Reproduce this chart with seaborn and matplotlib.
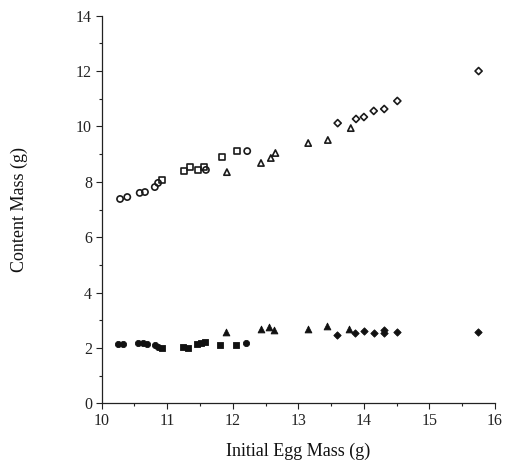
import pandas as pd
import matplotlib
matplotlib.use("Agg")
import matplotlib.pyplot as plt
from matplotlib.ticker import MultipleLocator
import seaborn as sns

sns.set_style("ticks")
plt.rcParams['font.family'] = ['Liberation Serif', 'DejaVu Serif']

# upper series (open markers)
x_circle_up = [10.28, 10.39, 10.58, 10.66, 10.81, 10.86, 11.59, 12.22]
y_circle_up = [7.38, 7.45, 7.60, 7.63, 7.81, 7.96, 8.43, 9.11]
x_square_up = [10.92, 11.26, 11.35, 11.47, 11.56, 11.84, 12.06]
y_square_up = [8.07, 8.39, 8.54, 8.43, 8.54, 8.90, 9.11]
x_tri_up = [11.91, 12.43, 12.58, 12.65, 13.15, 13.45, 13.80]
y_tri_up = [8.35, 8.68, 8.86, 9.04, 9.40, 9.51, 9.94]
x_dia_up = [13.60, 13.88, 14.00, 14.15, 14.31, 14.51, 15.75]
y_dia_up = [10.12, 10.27, 10.34, 10.56, 10.63, 10.92, 12.00]

# lower series (filled markers)
x_circle_lo = [10.25, 10.33, 10.55, 10.63, 10.69, 10.81, 10.86, 12.20]
y_circle_lo = [2.14, 2.14, 2.18, 2.18, 2.14, 2.11, 2.03, 2.18]
x_square_lo = [10.92, 11.24, 11.32, 11.45, 11.51, 11.58, 11.81, 12.05]
y_square_lo = [2.00, 2.03, 2.00, 2.14, 2.18, 2.21, 2.11, 2.11]
x_tri_lo = [11.90, 12.43, 12.55, 12.63, 13.15, 13.44, 13.77]
y_tri_lo = [2.58, 2.68, 2.76, 2.65, 2.68, 2.79, 2.68]
x_dia_lo = [13.59, 13.86, 14.00, 14.15, 14.31, 14.31, 14.50, 15.74]
y_dia_lo = [2.47, 2.54, 2.61, 2.54, 2.65, 2.54, 2.58, 2.58]

upper = [(x_circle_up, y_circle_up, 'o', 20),
         (x_square_up, y_square_up, 's', 19),
         (x_tri_up, y_tri_up, '^', 20),
         (x_dia_up, y_dia_up, 'D', 13)]
lower = [(x_circle_lo, y_circle_lo, 'o', 20),
         (x_square_lo, y_square_lo, 's', 17),
         (x_tri_lo, y_tri_lo, '^', 24),
         (x_dia_lo, y_dia_lo, 'D', 14)]

fig = plt.figure(figsize=(5.07, 4.68), dpi=100)
ax = fig.add_axes([0.2006, 0.1382, 0.7757, 0.8283])

for xs, ys, m, s in upper:
    df = pd.DataFrame({'x': xs, 'y': ys})
    sns.scatterplot(data=df, x='x', y='y', marker=m, s=s, ax=ax,
                    color='black', linewidth=1.2, zorder=3)
    coll = ax.collections[-1]
    coll.set_facecolor('none')
    coll.set_edgecolor('#1a1a1a')

for xs, ys, m, s in lower:
    df = pd.DataFrame({'x': xs, 'y': ys})
    sns.scatterplot(data=df, x='x', y='y', marker=m, s=s, ax=ax,
                    color='#111111', edgecolor='#111111', linewidth=0.6, zorder=3)

ax.set_xlim(10, 16)
ax.set_ylim(0, 14)
ax.xaxis.set_major_locator(MultipleLocator(1))
ax.xaxis.set_minor_locator(MultipleLocator(0.5))
ax.yaxis.set_major_locator(MultipleLocator(2))
ax.yaxis.set_minor_locator(MultipleLocator(1))
ax.tick_params(which='major', direction='out', length=4, width=0.8,
               labelsize=11.5, colors='#222222', pad=3)
ax.tick_params(which='minor', direction='out', length=2.5, width=0.8, colors='#222222')

sns.despine(ax=ax)
for sp in ['left', 'bottom']:
    ax.spines[sp].set_color('#222222')
    ax.spines[sp].set_linewidth(0.9)

ax.set_xlabel('Initial Egg Mass (g)', fontsize=13, color='#111111')
ax.set_ylabel('Content Mass (g)', fontsize=13, color='#111111')
ax.xaxis.set_label_coords(0.5, -0.102)
ax.yaxis.set_label_coords(-0.187, 0.5)

fig.savefig('out.png', dpi=100)
